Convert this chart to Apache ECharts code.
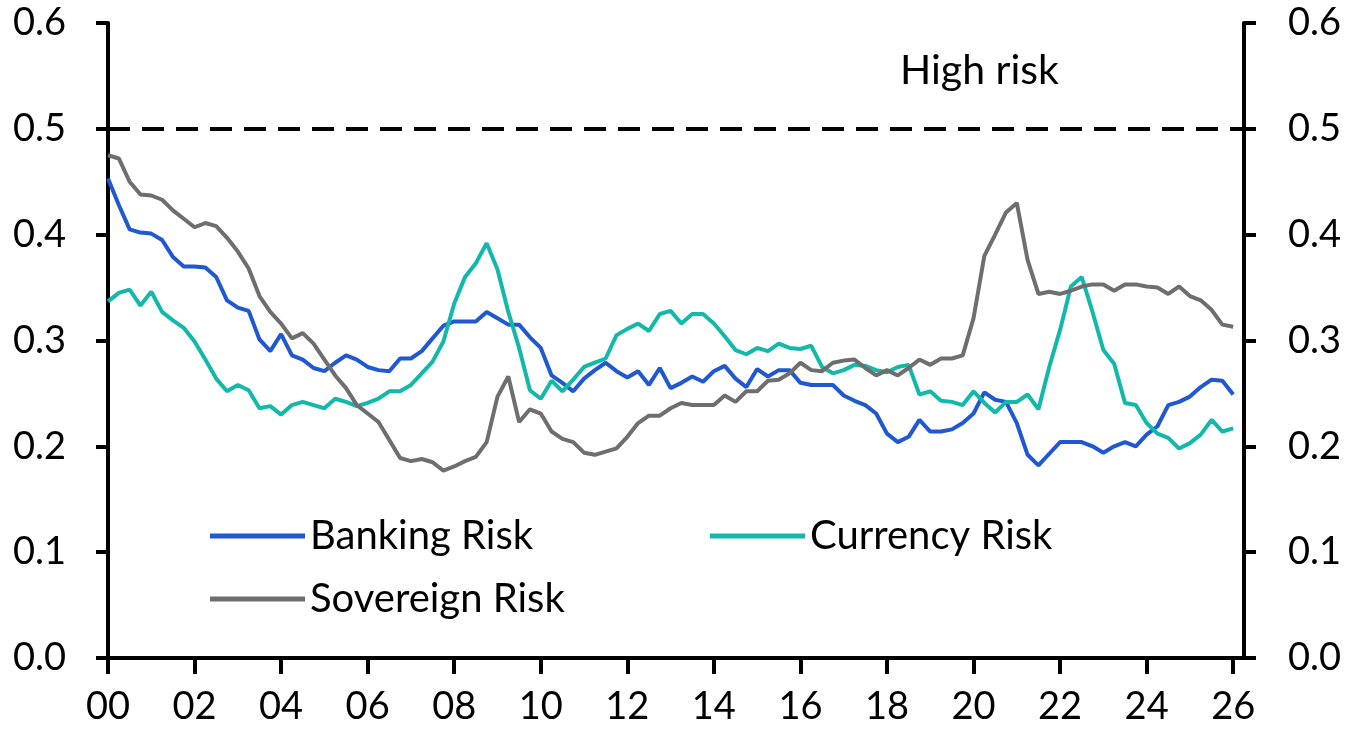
<!DOCTYPE html>
<html>
<head>
<meta charset="utf-8">
<script src="https://cdn.jsdelivr.net/npm/echarts@6/dist/echarts.min.js"></script>
<style>
    html, body { margin: 0; padding: 0; background: #fff; }
    #chart { width: 1346px; height: 730px; }
</style>
</head>
<body>
<div id="chart"></div>
<script>
// quarterly data, 2000Q1 .. 2026Q1
const startYear = 2000
const nQuarters = 106   // one extra empty quarter so the axis runs a little past 26

const banking = [
    0.453, 0.428, 0.405, 0.402, 0.401, 0.395, 0.379, 0.370, 0.370, 0.369, 0.360, 0.338, 0.331, 0.328, 0.301, 0.290,
    0.306, 0.286, 0.282, 0.274, 0.271, 0.279, 0.286, 0.282, 0.275, 0.272, 0.271, 0.283, 0.283, 0.290, 0.302, 0.314,
    0.318, 0.318, 0.318, 0.327, 0.321, 0.315, 0.315, 0.303, 0.293, 0.267, 0.260, 0.252, 0.264, 0.272, 0.279, 0.271,
    0.265, 0.271, 0.258, 0.274, 0.255, 0.260, 0.266, 0.261, 0.271, 0.276, 0.264, 0.256, 0.273, 0.266, 0.272, 0.272,
    0.260, 0.258, 0.258, 0.258, 0.248, 0.243, 0.239, 0.231, 0.212, 0.204, 0.209, 0.225, 0.214, 0.214, 0.216, 0.222,
    0.231, 0.251, 0.244, 0.242, 0.222, 0.192, 0.182, 0.193, 0.204, 0.204, 0.204, 0.200, 0.194, 0.200, 0.204, 0.200,
    0.211, 0.219, 0.239, 0.242, 0.247, 0.256, 0.263, 0.262, 0.249
]
const currency = [
    0.337, 0.345, 0.348, 0.333, 0.346, 0.327, 0.319, 0.312, 0.299, 0.282, 0.264, 0.252, 0.258, 0.253, 0.236, 0.238,
    0.230, 0.239, 0.242, 0.239, 0.236, 0.245, 0.242, 0.238, 0.241, 0.245, 0.252, 0.252, 0.258, 0.269, 0.280, 0.299,
    0.335, 0.360, 0.373, 0.392, 0.367, 0.327, 0.293, 0.253, 0.245, 0.262, 0.252, 0.263, 0.275, 0.279, 0.283, 0.305,
    0.311, 0.316, 0.309, 0.325, 0.328, 0.316, 0.325, 0.325, 0.316, 0.304, 0.291, 0.287, 0.293, 0.290, 0.297, 0.293,
    0.292, 0.295, 0.275, 0.269, 0.272, 0.277, 0.276, 0.272, 0.270, 0.275, 0.277, 0.249, 0.252, 0.243, 0.242, 0.239,
    0.252, 0.241, 0.232, 0.242, 0.242, 0.249, 0.235, 0.275, 0.310, 0.351, 0.360, 0.327, 0.291, 0.278, 0.241, 0.239,
    0.222, 0.212, 0.208, 0.198, 0.203, 0.211, 0.225, 0.214, 0.217
]
const sovereign = [
    0.475, 0.472, 0.450, 0.438, 0.437, 0.433, 0.423, 0.415, 0.407, 0.411, 0.408, 0.397, 0.384, 0.368, 0.342, 0.327,
    0.316, 0.302, 0.307, 0.297, 0.282, 0.267, 0.255, 0.239, 0.231, 0.223, 0.206, 0.189, 0.186, 0.188, 0.185, 0.177,
    0.181, 0.186, 0.190, 0.204, 0.247, 0.266, 0.223, 0.235, 0.231, 0.214, 0.207, 0.204, 0.194, 0.192, 0.195, 0.198,
    0.209, 0.222, 0.229, 0.229, 0.236, 0.241, 0.239, 0.239, 0.239, 0.248, 0.242, 0.252, 0.252, 0.262, 0.263, 0.269,
    0.279, 0.272, 0.271, 0.279, 0.281, 0.282, 0.274, 0.267, 0.272, 0.267, 0.274, 0.282, 0.277, 0.283, 0.283, 0.286,
    0.321, 0.380, 0.400, 0.421, 0.430, 0.376, 0.344, 0.346, 0.344, 0.347, 0.351, 0.353, 0.353, 0.347, 0.353, 0.353,
    0.351, 0.350, 0.344, 0.351, 0.342, 0.338, 0.329, 0.315, 0.313
]
const highRiskLevel = 0.5
const yTicks = [0, 0.1, 0.2, 0.3, 0.4, 0.5, 0.6]

const quarters = []
for (let i = 0; i < nQuarters; i++) {
    quarters.push((startYear + Math.floor(i / 4)) + 'Q' + (i % 4 + 1))
}

const font = 'Lato'
const isTick = (idx) => idx % 8 === 0

const yAxisBase = (pos, margin) => ({
    type: 'value',
    position: pos,
    min: yTicks[0],
    max: yTicks[yTicks.length - 1],
    interval: 0.1,
    axisLine: { show: true, lineStyle: { color: '#000', width: 4 } },
    axisTick: { show: true, length: 12, lineStyle: { color: '#000', width: 4 } },
    axisLabel: {
        margin: margin,
        color: '#000',
        fontFamily: font,
        fontSize: 38,
        formatter: v => v.toFixed(1)
    },
    splitLine: { show: false }
})

let myChart = echarts.init(document.getElementById('chart'))
var option = {
    animation: false,
    title: {
        text: 'High risk',
        left: 900,
        top: 50,
        padding: 0,
        textStyle: { fontFamily: font, fontSize: 41, fontWeight: 'normal', color: '#000' }
    },
    legend: [
        { data: ['Banking Risk'], left: 210, top: 516 },
        { data: ['Currency Risk'], left: 710, top: 516 },
        { data: ['Sovereign Risk'], left: 210, top: 579 }
    ].map(l => Object.assign(l, {
        icon: 'rect',
        itemWidth: 95,
        itemHeight: 5,
        itemGap: 0,
        padding: 0,
        textStyle: { fontFamily: font, fontSize: 40, color: '#000' }
    })),
    grid: { left: 108, right: 102, top: 23, bottom: 72 },
    xAxis: {
        type: 'category',
        boundaryGap: false,
        data: quarters,
        axisLine: { lineStyle: { color: '#000', width: 4 } },
        axisTick: { show: true, interval: isTick, length: 16, lineStyle: { color: '#000', width: 4 } },
        axisLabel: {
            interval: isTick,
            margin: 30,
            color: '#000',
            fontFamily: font,
            fontSize: 38,
            formatter: v => v.slice(2, 4)
        }
    },
    yAxis: [yAxisBase('left', 42), yAxisBase('right', 44)],
    series: [
        {
            name: 'Banking Risk',
            type: 'line',
            data: banking,
            symbol: 'none',
            lineStyle: { color: '#1F58D0', width: 4 },
            itemStyle: { color: '#1F58D0' },
            markLine: {
                silent: true,
                symbol: 'none',
                label: { show: false },
                lineStyle: { color: '#000', width: 4, type: [22, 12] },
                data: [{ yAxis: highRiskLevel }]
            }
        },
        {
            name: 'Currency Risk',
            type: 'line',
            data: currency,
            symbol: 'none',
            lineStyle: { color: '#12B8A9', width: 4 },
            itemStyle: { color: '#12B8A9' }
        },
        {
            name: 'Sovereign Risk',
            type: 'line',
            data: sovereign,
            symbol: 'none',
            lineStyle: { color: '#6E6E6E', width: 4 },
            itemStyle: { color: '#6E6E6E' }
        }
    ]
};
myChart.setOption(option);
</script>
</body>
</html>
